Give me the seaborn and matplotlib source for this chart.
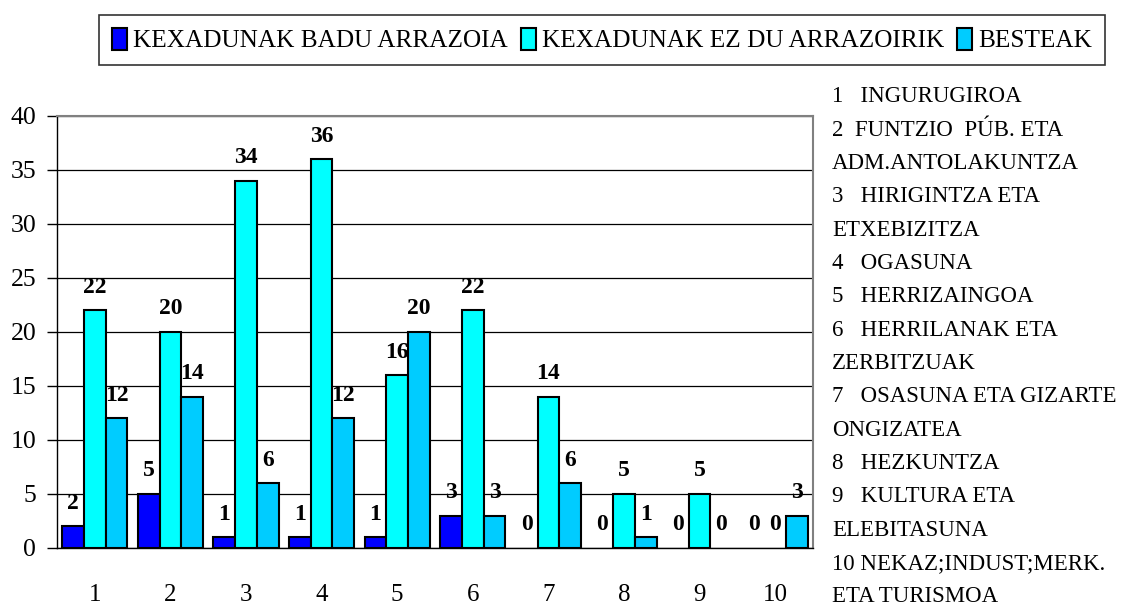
import pandas as pd
import matplotlib
matplotlib.use("Agg")
import matplotlib.pyplot as plt
import seaborn as sns

# data
kategoriak = ["1", "2", "3", "4", "5", "6", "7", "8", "9", "10"]
taldeak = ["KEXADUNAK BADU ARRAZOIA", "KEXADUNAK EZ DU ARRAZOIRIK", "BESTEAK"]
badu_arrazoia = [2, 5, 1, 1, 1, 3, 0, 0, 0, 0]
ez_du_arrazoirik = [22, 20, 34, 36, 16, 22, 14, 5, 5, 0]
besteak = [12, 14, 6, 12, 20, 3, 6, 1, 0, 3]
koloreak = ["#0000FF", "#00FFFF", "#00CCFF"]

oharrak = [
    "1   INGURUGIROA",
    "2  FUNTZIO  PÚB. ETA",
    "ADM.ANTOLAKUNTZA",
    "3   HIRIGINTZA ETA",
    "ETXEBIZITZA",
    "4   OGASUNA",
    "5   HERRIZAINGOA",
    "6   HERRILANAK ETA",
    "ZERBITZUAK",
    "7   OSASUNA ETA GIZARTE",
    "ONGIZATEA",
    "8   HEZKUNTZA",
    "9   KULTURA ETA",
    "ELEBITASUNA",
    "10 NEKAZ;INDUST;MERK.",
    "ETA TURISMOA",
]

rows = []
for izena, balioak in zip(taldeak, [badu_arrazoia, ez_du_arrazoirik, besteak]):
    for k, v in zip(kategoriak, balioak):
        rows.append({"kategoria": k, "balioa": v, "taldea": izena})
df = pd.DataFrame(rows)

sns.set_style("white")
plt.rcParams["font.family"] = ["Liberation Serif", "DejaVu Serif"]
plt.rcParams["text.color"] = "black"
plt.rcParams["xtick.color"] = "black"
plt.rcParams["ytick.color"] = "black"
plt.rcParams["xtick.labelcolor"] = "black"
plt.rcParams["ytick.labelcolor"] = "black"

W, H = 1121, 608
fig = plt.figure(figsize=(W / 100, H / 100), dpi=100)
ax = fig.add_axes([57 / W, 1 - 548 / H, (813 - 57) / W, (548 - 116) / H])

sns.barplot(data=df, x="kategoria", y="balioa", hue="taldea", order=kategoriak,
            hue_order=taldeak, palette=koloreak, width=0.86, edgecolor="black",
            linewidth=1.5, saturation=1, ax=ax)

handles, labels = ax.get_legend_handles_labels()
ax.get_legend().remove()

for cont in ax.containers:
    ax.bar_label(cont, fmt="%d", padding=9, fontsize=17, fontweight="bold", color="black")
    # zero bars are not drawn in the original, only their label
    for p in cont.patches:
        if p.get_height() == 0:
            p.set_linewidth(0)

ax.set_xlim(-0.5, len(kategoriak) - 0.5)
ax.set_ylim(0, 40)
ax.set_yticks(range(0, 41, 5))
ax.set_xticks(range(len(kategoriak)))
ax.set_xticks([i - 0.5 for i in range(len(kategoriak) + 1)], minor=True)
ax.set_xlabel("")
ax.set_ylabel("")
ax.grid(axis="y", color="black", linewidth=0.9)
ax.set_axisbelow(True)

ax.tick_params(axis="x", which="major", length=0, pad=26, labelsize=18)
ax.tick_params(axis="x", which="minor", length=10, width=1, color="black", direction="out")
ax.tick_params(axis="y", length=7, width=1, color="black", direction="out", pad=8, labelsize=18.5,
               left=True)

for s in ["left", "bottom"]:
    ax.spines[s].set_color("black")
    ax.spines[s].set_linewidth(1)
for s in ["top", "right"]:
    ax.spines[s].set_color("#808080")
    ax.spines[s].set_linewidth(1.5)

leg = fig.legend(handles, labels, loc="center", bbox_to_anchor=(602 / W, 1 - 40 / H),
                 ncol=3, fontsize=18.2, frameon=True, fancybox=False, edgecolor="black",
                 handlelength=0.6, handleheight=1.0, handletextpad=0.25, columnspacing=0.5,
                 borderpad=0.5, borderaxespad=0)
leg.get_frame().set_linewidth(1.2)
for h in leg.legend_handles:
    h.set_edgecolor("black")
    h.set_linewidth(1.5)

for i, rivi in enumerate(oharrak):
    fig.text(832 / W, 1 - (97 + 33.33 * i) / H, rivi, fontsize=16.5, va="center", ha="left")

fig.savefig("out.png", dpi=100)
